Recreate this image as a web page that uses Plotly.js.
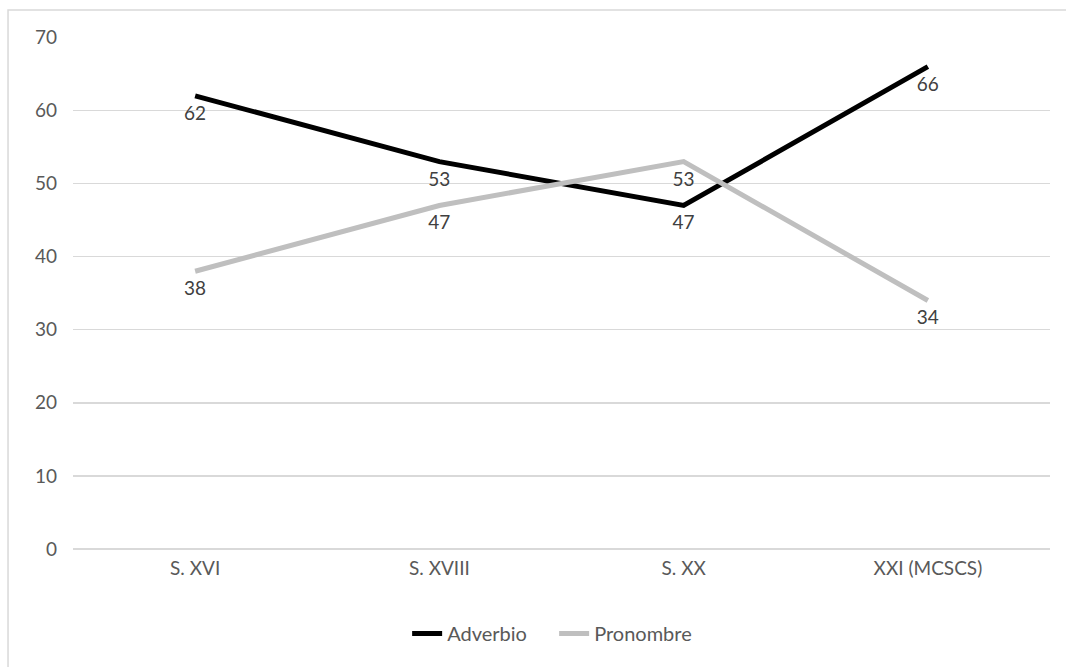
<!DOCTYPE html>
<html>
<head>
<meta charset="utf-8">
<script src="https://cdn.plot.ly/plotly-3.0.1.min.js"></script>
<style>
  html, body { margin: 0; padding: 0; background: #ffffff; }
  #chart { width: 1066px; height: 667px; }
</style>
</head>
<body>
<div id="chart"></div>
<script>
// Periods on the horizontal axis
const periodos = ['S. XVI', 'S. XVIII', 'S. XX', 'XXI (MCSCS)'];
// Percentage of each use per period
const adverbio = [62, 53, 47, 66];
const pronombre = [38, 47, 53, 34];
// Value axis ticks
const yTicks = [0, 10, 20, 30, 40, 50, 60, 70];

const fontFamily = 'Lato, "Noto Sans", "DejaVu Sans", sans-serif';
const fontSize = 19;

function linea(nombre, valores, color) {
  return {
    type: 'scatter',
    mode: 'lines',
    name: nombre,
    x: periodos,
    y: valores,
    line: { color: color, width: 5 },
    hoverinfo: 'x+y+name'
  };
}

// Value labels sit under each point; the invisible marker sets their distance
function etiquetas(valores) {
  return {
    type: 'scatter',
    mode: 'markers+text',
    showlegend: false,
    x: periodos,
    y: valores,
    text: valores.map(String),
    textposition: 'bottom center',
    textfont: { family: fontFamily, size: fontSize, color: '#404040' },
    marker: { size: 14, opacity: 0 },
    cliponaxis: false,
    hoverinfo: 'skip'
  };
}

const data = [
  linea('Adverbio', adverbio, '#000000'),
  linea('Pronombre', pronombre, '#bfbfbf'),
  etiquetas(adverbio),
  etiquetas(pronombre)
];

const layout = {
  width: 1066,
  height: 667,
  margin: { l: 73, r: 16, t: 37, b: 118 },
  paper_bgcolor: '#ffffff',
  plot_bgcolor: '#ffffff',
  font: { family: fontFamily, size: fontSize, color: '#595959' },
  showlegend: true,
  legend: {
    orientation: 'h',
    x: 0.342,
    xanchor: 'left',
    y: -0.165,
    yanchor: 'middle',
    font: { family: fontFamily, size: 20, color: '#595959' },
    entrywidth: 102,
    entrywidthmode: 'pixels',
    tracegroupgap: 0
  },
  xaxis: {
    type: 'category',
    range: [-0.5, 3.5],
    showgrid: false,
    showline: false,
    zeroline: false,
    ticks: '',
    tickfont: { family: fontFamily, size: fontSize, color: '#595959' },
    ticklabelstandoff: 6,
    fixedrange: true
  },
  yaxis: {
    range: [0, 70.05],
    tickvals: yTicks,
    ticktext: yTicks.map(String),
    showgrid: true,
    gridcolor: '#d9d9d9',
    gridwidth: 1.5,
    zeroline: true,
    zerolinecolor: '#d9d9d9',
    zerolinewidth: 1.5,
    showline: false,
    ticks: '',
    ticklabelstandoff: 15,
    tickfont: { family: fontFamily, size: fontSize, color: '#595959' },
    fixedrange: true
  },
  shapes: [{
    type: 'rect',
    xref: 'paper', yref: 'paper',
    x0: -0.0665, x1: 1.2,
    y0: -0.5, y1: 1.0527,
    line: { color: '#d9d9d9', width: 1.5 },
    fillcolor: 'rgba(0,0,0,0)',
    layer: 'below'
  }]
};

Plotly.newPlot('chart', data, layout, { displayModeBar: false, staticPlot: true });
</script>
</body>
</html>
